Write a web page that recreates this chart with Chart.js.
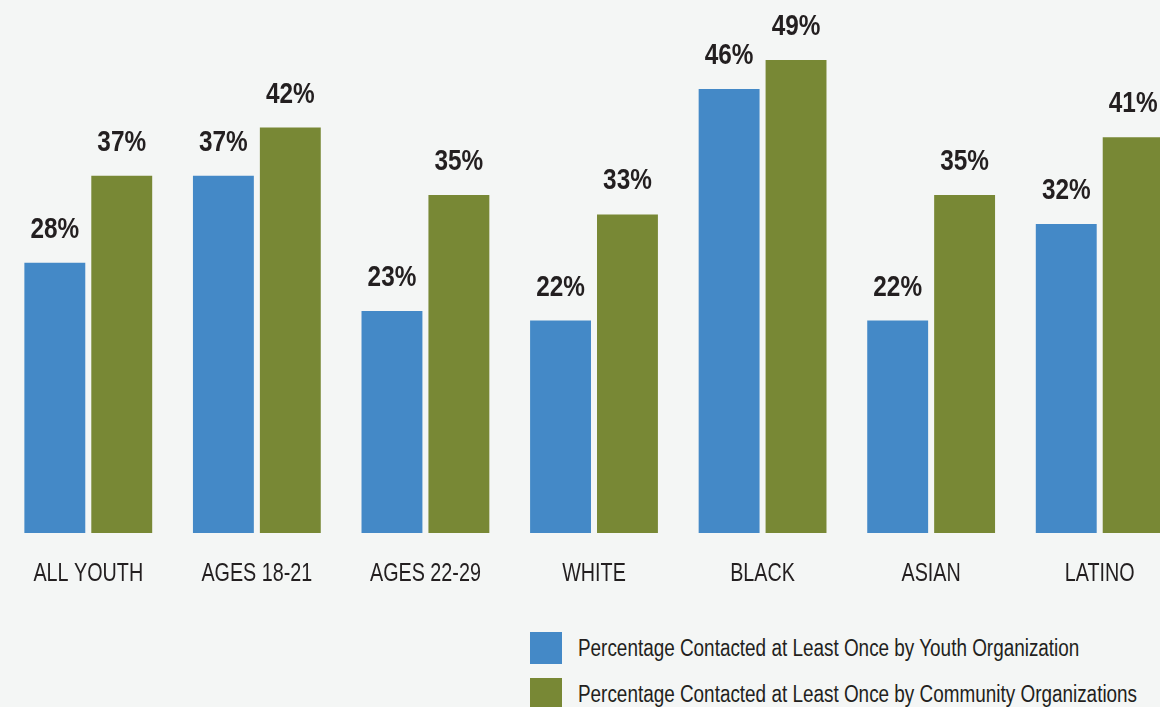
<!DOCTYPE html>
<html>
<head>
<meta charset="utf-8">
<script src="https://cdn.jsdelivr.net/npm/chart.js@4"></script>
<style>
  html, body { margin:0; padding:0; background:#f4f6f5; }
  #wrap { position:relative; width:1160px; height:707px; overflow:hidden; background:#f4f6f5; }
  #c { position:absolute; left:0; top:0; }
  .leg { position:absolute; left:530px; height:32px; white-space:nowrap; }
  .sw { position:absolute; left:0; top:0; width:32px; height:32px; }
  .lt { position:absolute; left:48px; top:0; line-height:32px; white-space:nowrap;
        font-family:"Liberation Sans",Arial,sans-serif; font-size:23px; color:#231f20;
        transform:scaleX(0.822); transform-origin:0 50%; }
</style>
</head>
<body>
<div id="wrap">
  <canvas id="c" width="1188" height="600"></canvas>
  <div class="leg" style="top:632px"><div class="sw" style="background:#4489c7"></div><span class="lt" id="l0"></span></div>
  <div class="leg" style="top:678px"><div class="sw" style="background:#788835"></div><span class="lt" id="l1"></span></div>
</div>
<script>
const categories = ["ALL YOUTH","AGES 18-21","AGES 22-29","WHITE","BLACK","ASIAN","LATINO"];
const youthOrg = [28, 37, 23, 22, 46, 22, 32];
const communityOrg = [37, 42, 35, 33, 49, 35, 41];
const seriesNames = ["Percentage Contacted at Least Once by Youth Organization",
                     "Percentage Contacted at Least Once by Community Organizations"];
const colors = ["#4489c7", "#788835"];

document.getElementById('l0').textContent = seriesNames[0];
document.getElementById('l1').textContent = seriesNames[1];

const FONT = '"Liberation Sans",Arial,sans-serif';

function narrowText(ctx, text, x, y, sx) {
  ctx.save();
  ctx.translate(x, y);
  ctx.scale(sx, 1);
  ctx.fillText(text, 0, 0);
  ctx.restore();
}

const labelPlugin = {
  id: 'barLabels',
  afterDatasetsDraw(chart) {
    const ctx = chart.ctx;
    ctx.save();
    ctx.fillStyle = '#231f20';
    ctx.textAlign = 'center';
    ctx.textBaseline = 'alphabetic';
    ctx.font = 'bold 29px ' + FONT;
    chart.data.datasets.forEach((ds, di) => {
      const meta = chart.getDatasetMeta(di);
      meta.data.forEach((bar, i) => {
        narrowText(ctx, ds.data[i] + '%', bar.x, bar.y - 25, 0.84);
      });
    });
    // category labels
    ctx.font = '26px ' + FONT;
    const xs = chart.scales.x;
    chart.data.labels.forEach((lab, i) => {
      narrowText(ctx, lab, xs.getPixelForValue(i), chart.chartArea.bottom + 48, 0.76);
    });
    ctx.restore();
  }
};

new Chart(document.getElementById('c'), {
  type: 'bar',
  data: {
    labels: categories,
    datasets: [
      { label: seriesNames[0], data: youthOrg, backgroundColor: colors[0] },
      { label: seriesNames[1], data: communityOrg, backgroundColor: colors[1] }
    ]
  },
  options: {
    responsive: false,
    animation: false,
    devicePixelRatio: 1,
    categoryPercentage: 0.794,
    barPercentage: 0.91,
    layout: { padding: { left: 4, right: 4, top: 2, bottom: 67 } },
    plugins: { legend: { display: false }, tooltip: { enabled: false } },
    scales: {
      x: {
        display: false
      },
      y: {
        display: false,
        min: 0, max: 55
      }
    }
  },
  plugins: [labelPlugin]
});
</script>
</body>
</html>
